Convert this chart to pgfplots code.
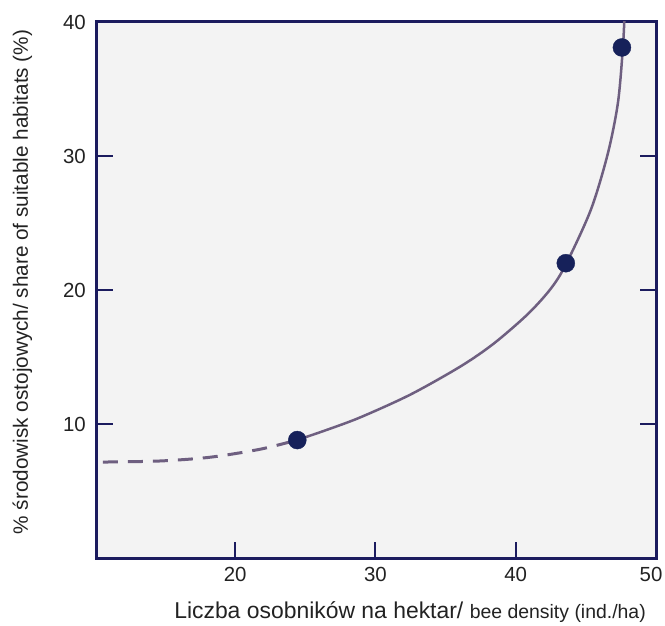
\documentclass[border=0pt]{standalone}
\usepackage{pgfplots}
\pgfplotsset{compat=1.18}
\usepackage{fontspec}
\setmainfont{Liberation Sans}
\definecolor{navy}{HTML}{1B1B5E}
\definecolor{curvec}{HTML}{6E5F80}
\definecolor{markc}{HTML}{16215A}
\definecolor{bgc}{HTML}{F3F3F3}
\definecolor{txt}{HTML}{222222}
\begin{document}
\begin{tikzpicture}
\useasboundingbox (-97bp,-68bp) rectangle (568bp,558bp);
\begin{axis}[
  scale only axis, width=559bp, height=536bp,
  xmin=10.15, xmax=50, ymin=0, ymax=40,
  xtick={20,30,40}, ytick={10,20,30,40},
  extra x ticks={50},
  extra x tick style={xticklabel style={xshift=-5bp}},
  xtick pos=bottom, ytick pos=both, yticklabel pos=left,
  tick align=inside, major tick length=16bp,
  axis line style={navy, line width=3bp},
  every tick/.style={navy, line width=2bp},
  /pgf/number format/assume math mode=true,
  tick label style={font=\fontsize{20.5}{22}\selectfont, text=txt},
  yticklabel style={inner sep=0pt, xshift=-11bp},
  xticklabel style={inner sep=0pt, yshift=-9bp},
  axis background/.style={fill=bgc},
  xlabel={\fontsize{23}{25}\selectfont Liczba osobników na hektar/ {\fontsize{19.5}{21}\selectfont bee density (ind./ha)}},
  xlabel style={at={(axis description cs:0.56,0)}, anchor=base, yshift=-60bp, inner sep=0pt, text=txt},
  ylabel={\fontsize{20.8}{22}\selectfont \% środowisk ostojowych/ share of suitable habitats (\%)},
  ylabel style={at={(axis description cs:0,0.515)}, anchor=base, yshift=69bp, inner sep=0pt, text=txt},
  clip=true,
]
\addplot[curvec, line width=3bp, dash pattern=on 15bp off 10bp, smooth] coordinates {
  (10.57,7.16) (14.64,7.24) (18.21,7.52) (21.79,8.12) (24.43,8.81)
};
\addplot[curvec, line width=2.5bp, smooth, tension=0.5] coordinates {
  (24.43,8.81) (26.5,9.55) (28.93,10.5) (32.5,12.2) (36.07,14.3)
  (38.43,16.0) (40.86,18.2) (42.5,20.1) (43.57,21.9) (45.36,26.0)
  (46.57,30.2) (47.29,34.0) (47.64,38.1) (47.76,40.6)
};
\addplot[only marks, mark=*, mark size=9bp, mark options={fill=markc, draw=markc}] coordinates {
  (24.43,8.8) (43.57,22.0) (47.57,38.1)
};
\end{axis}
\end{tikzpicture}
\end{document}
